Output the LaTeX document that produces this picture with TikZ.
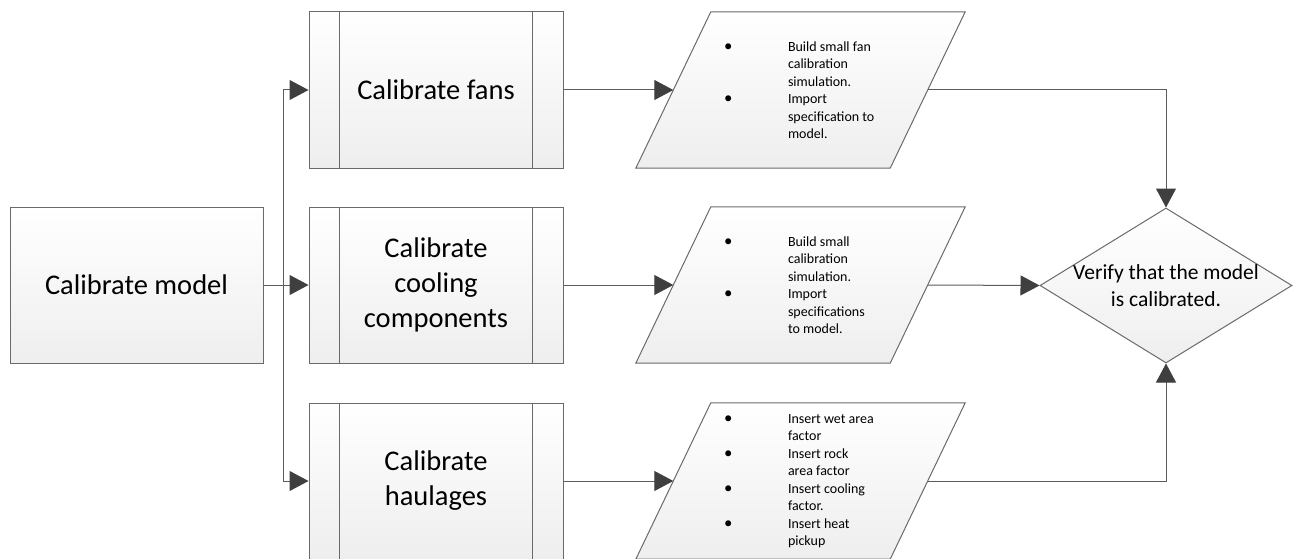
\documentclass[tikz,border=0pt]{standalone}
\usepackage{fontspec}
\setmainfont{Carlito}
\usetikzlibrary{arrows.meta,shapes.geometric}

\definecolor{edge}{HTML}{6A6A6A}
\definecolor{wire}{HTML}{5C5C5C}
\definecolor{tip}{HTML}{3F3F3F}
\definecolor{fillbot}{HTML}{EEEEEE}

\tikzset{
  shaded/.style={top color=white, bottom color=fillbot},
  plainbox/.style={draw=edge, line width=1pt, shaded, minimum width=253pt,
    minimum height=156pt, inner sep=0pt, align=center,
    font=\fontsize{28.5}{35}\selectfont},
  subproc/.style={plainbox, minimum width=254pt,
    path picture={
      \draw[edge, line width=1pt]
        ([xshift=30pt]path picture bounding box.north west) --
        ([xshift=30pt]path picture bounding box.south west)
        ([xshift=-31pt]path picture bounding box.north east) --
        ([xshift=-31pt]path picture bounding box.south east);
    }},
  ioframe/.style={minimum width=254pt, minimum height=156pt, inner sep=0pt},
  ioedge/.style={draw=edge, line width=1pt, shaded},
  listtext/.style={anchor=west, inner sep=0pt, align=left,
    font=\fontsize{14}{17.5}\selectfont},
  decision/.style={diamond, draw=edge, line width=1pt, shaded,
    minimum width=252pt, minimum height=155pt, inner sep=0pt},
  conn/.style={draw=wire, line width=1pt,
    -{Triangle[length=19pt, width=20pt, fill=tip, color=tip]}}
}

% bullet item: a bullet in a fixed-width slot, then the first line of text
\newcommand{\bul}{\makebox[64pt][l]{\scalebox{1.2}{\textbullet}}}
\newcommand{\gap}{\hspace*{64pt}}

\begin{document}
\begin{tikzpicture}[x=1pt, y=-1pt]
  \useasboundingbox (0,0) rectangle (1298,559);

  % start box and the three calibration steps
  \node[plainbox] (model) at (136.5,285) {Calibrate model};
  \node[subproc] (fans) at (436,90) {Calibrate fans};
  \node[subproc] (cool) at (436,285) {Calibrate\\cooling\\components};
  \node[subproc] (haul) at (436,481) {Calibrate\\haulages};

  % data (input/output) frames
  \node[ioframe] (p1) at (800.5,90) {};
  \node[ioframe] (p2) at (800.5,285) {};
  \node[ioframe] (p3) at (800.5,481) {};
  \foreach \n in {p1,p2,p3}
    \draw[ioedge] ([xshift=37.5pt]\n.north west) -- ([xshift=37.5pt]\n.north east)
      -- ([xshift=-37.5pt]\n.south east) -- ([xshift=-37.5pt]\n.south west) -- cycle;

  \node[listtext] (t1) at ([xshift=50.5pt]p1.west) {%
    \bul Build small fan\\ \gap calibration\\ \gap simulation.\\
    \bul Import\\ \gap specification to\\ \gap model.};
  \node[listtext] (t2) at ([xshift=50.5pt]p2.west) {%
    \bul Build small\\ \gap calibration\\ \gap simulation.\\
    \bul Import\\ \gap specifications\\ \gap to model.};
  \node[listtext] (t3) at ([xshift=50.5pt]p3.west) {%
    \bul Insert wet area\\ \gap factor\\
    \bul Insert rock\\ \gap area factor\\
    \bul Insert cooling\\ \gap factor.\\
    \bul Insert heat\\ \gap pickup};

  % final check
  \node[decision, label={[align=center, font=\fontsize{21.5}{27}\selectfont]center:Verify that the model\\is calibrated.}]
    (dia) at (1166,285.5) {};

  % connectors
  \draw[conn] (model.east) -- (cool.west);
  \draw[conn] (model.east) -- ++(20,0) |- (fans.west);
  \draw[conn] (model.east) -- ++(20,0) |- (haul.west);
  \draw[conn] (fans.east) -- (p1.west);
  \draw[conn] (cool.east) -- (p2.west);
  \draw[conn] (haul.east) -- (p3.west);
  \draw[conn] (p1.east) -| (dia.north);
  \draw[conn] (p2.east) -- (dia.west);
  \draw[conn] (p3.east) -| (dia.south);
\end{tikzpicture}
\end{document}
